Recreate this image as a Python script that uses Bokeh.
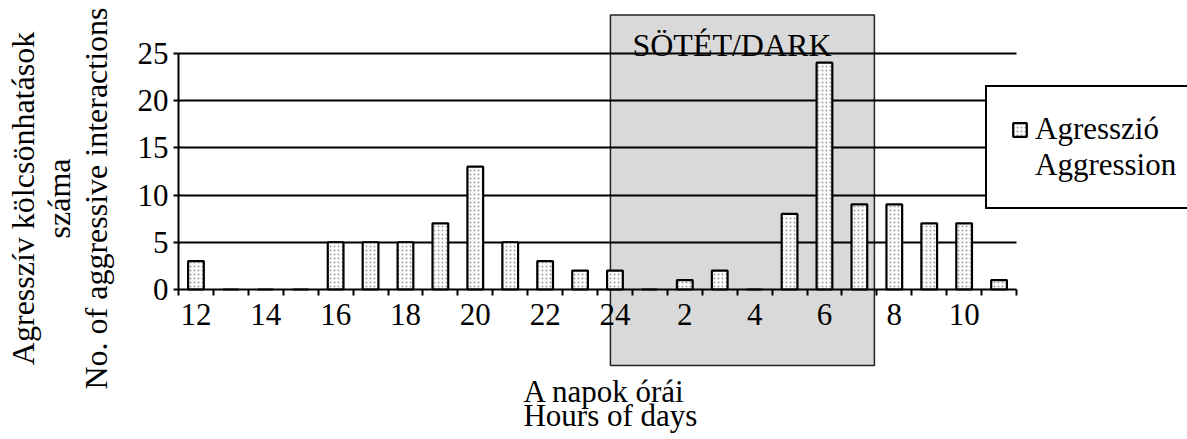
import math
from bokeh.plotting import figure
from bokeh.models import Range1d, FixedTicker, Legend, LegendItem, Label
from bokeh.embed import file_html
from bokeh.resources import INLINE

# ---- data ----
hours = ["12", "13", "14", "15", "16", "17", "18", "19", "20", "21", "22", "23",
         "24", "1", "2", "3", "4", "5", "6", "7", "8", "9", "10", "11"]
counts = [3, 0, 0, 0, 5, 5, 5, 7, 13, 5, 3, 2,
          2, 0, 1, 2, 0, 8, 24, 9, 9, 7, 7, 1]
y_ticks = [0, 5, 10, 15, 20, 25]
legend_lines = ["Agresszió", "Aggression"]
dark_label = "SÖTÉT/DARK"
x_title = ["A napok órái", "Hours of days"]
y_title = ["Agresszív kölcsönhatások", "száma", "No. of aggressive interactions"]

# dark period box (axis units: hour slots / counts)
dark_left, dark_right = 12.37, 19.93
dark_bottom, dark_top = -8.04, 29.06

FONT = "Liberation Serif"
W, H = 1187, 439

xs = [i + 0.5 for i in range(len(hours))]

p = figure(width=W, height=H,
           x_range=Range1d(-5.098, 28.897), y_range=Range1d(-15.873, 30.582),
           output_backend="svg", toolbar_location=None,
           min_border=0, min_border_left=0, min_border_right=0,
           min_border_top=0, min_border_bottom=0)
p.outline_line_color = None
p.background_fill_color = "white"
p.border_fill_color = "white"

# dark box (drawn below grid lines)
p.quad(left=[dark_left], right=[dark_right], bottom=[dark_bottom], top=[dark_top],
       fill_color="#d9d9d9", line_color="#222222", line_width=1.5, level="image")

bars = p.vbar(x=xs, top=counts, bottom=0, width=0.45,
              fill_color="white", line_color="black", line_width=2.2,
              hatch_pattern="dot", hatch_color="#a0a0a0", hatch_scale=4, hatch_weight=1)
# empty renderer only used for the second (glyph-less) legend line
blank = p.vbar(x=[], top=[], width=0.45, fill_alpha=0, line_alpha=0)

# grid
p.xgrid.visible = False
p.ygrid.ticker = FixedTicker(ticks=y_ticks[1:])
p.ygrid.grid_line_color = "black"
p.ygrid.grid_line_width = 2
try:
    p.ygrid.cross_bounds = (0, len(hours))
except Exception:
    p.ygrid.visible = False
    p.segment(x0=[0] * 5, x1=[len(hours)] * 5, y0=y_ticks[1:], y1=y_ticks[1:],
              line_color="black", line_width=2, level="underlay")

# y axis
ya = p.yaxis[0]
ya.fixed_location = 0
ya.ticker = FixedTicker(ticks=y_ticks)
ya.bounds = (0, 25)
ya.axis_line_width = 2
ya.major_tick_line_width = 2
ya.major_tick_in = 0
ya.major_tick_out = 5
ya.minor_tick_out = 0
ya.minor_tick_in = 0
ya.major_label_text_font = FONT
ya.major_label_text_font_size = "31px"
ya.major_label_text_color = "black"
ya.major_label_standoff = 5

# x axis
xa = p.xaxis[0]
xa.fixed_location = 0
xa.bounds = (0, len(hours))
label_pos = [xs[i] for i in range(0, len(hours), 2)]
xa.ticker = FixedTicker(ticks=label_pos, minor_ticks=list(range(len(hours) + 1)))
xa.major_label_overrides = {xs[i]: hours[i] for i in range(0, len(hours), 2)}
xa.axis_line_width = 2
xa.major_tick_in = 0
xa.major_tick_out = 0
xa.major_tick_line_color = None
xa.minor_tick_in = 0
xa.minor_tick_out = 6
xa.minor_tick_line_width = 2
xa.minor_tick_line_color = "black"
xa.major_label_text_font = FONT
xa.major_label_text_font_size = "31px"
xa.major_label_text_color = "black"
xa.major_label_standoff = 8

# texts
def add_text(x, y, t, size, angle=0, align="left", baseline="alphabetic"):
    p.add_layout(Label(x=x, y=y, text=t, text_font=FONT, text_font_size=size,
                       text_align=align, text_baseline=baseline, angle=angle,
                       text_color="black"))

add_text(13.0, 25.9, dark_label, "32px")
add_text(9.88, -10.8, x_title[0], "31px")
add_text(9.88, -13.3, x_title[1], "31px")
for xx, t in zip([-4.45, -3.43, -2.36], y_title):
    add_text(xx, 9.63, t, "32px", angle=math.pi / 2, align="center", baseline="middle")

legend = Legend(items=[LegendItem(label=legend_lines[0], renderers=[bars]),
                       LegendItem(label=legend_lines[1], renderers=[blank])],
                location=(985, 230))
legend.border_line_color = "black"
legend.border_line_alpha = 1
legend.border_line_width = 2
legend.background_fill_color = "white"
legend.background_fill_alpha = 1
legend.label_text_font = FONT
legend.label_text_font_size = "31px"
legend.label_text_color = "black"
legend.glyph_width = 17
legend.glyph_height = 17
legend.label_standoff = 7
legend.padding = 24
legend.margin = 0
legend.spacing = 0
p.add_layout(legend)

open("out.html", "w").write(file_html(p, INLINE))
